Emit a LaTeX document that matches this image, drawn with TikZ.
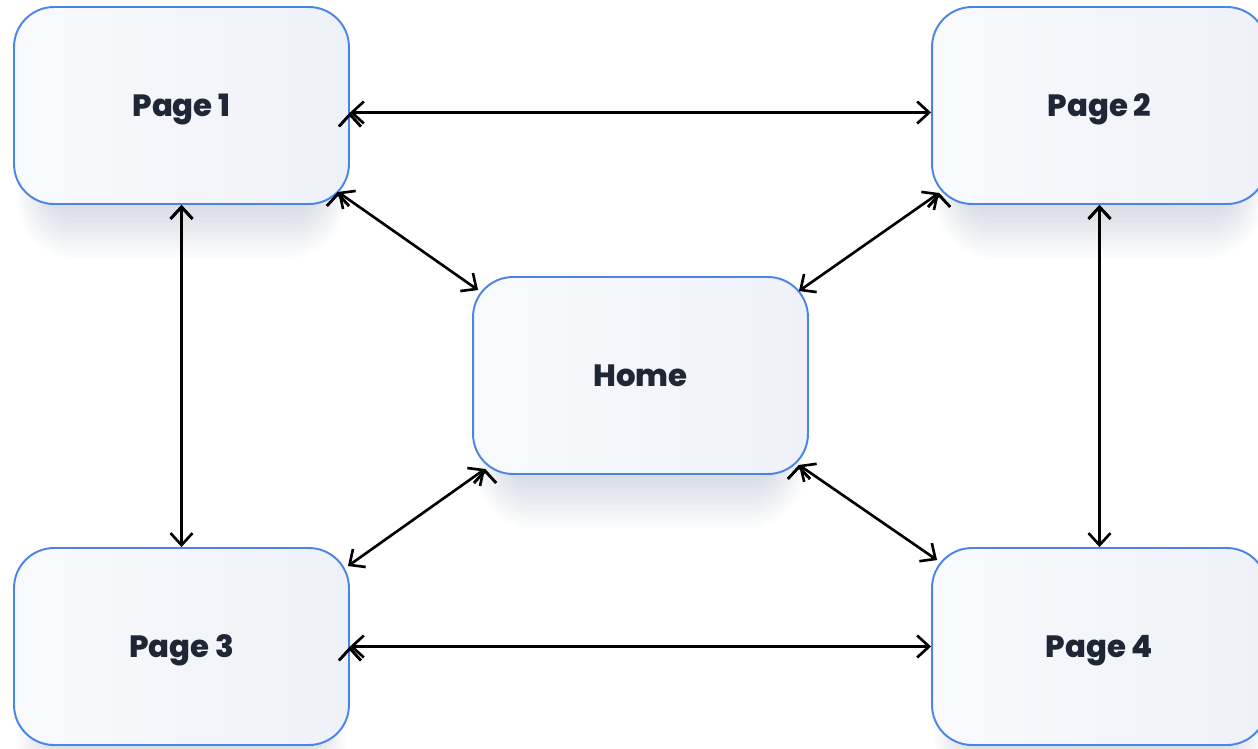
\documentclass[tikz,border=0pt]{standalone}
\usepackage{fontspec}
\newfontfamily\boxfont{Poppins}[BoldFont={Poppins ExtraBold}]
\usetikzlibrary{arrows.meta}
\usetikzlibrary{backgrounds}
\definecolor{boxline}{HTML}{4A84E4}
\definecolor{boxlight}{HTML}{F9FAFD}
\definecolor{boxdark}{HTML}{EEF1F8}
\definecolor{boxtext}{HTML}{1F2636}
\definecolor{shadowblue}{HTML}{8C96B4}

\begin{document}
\begin{tikzpicture}[x=0.02cm, y=-0.02cm,
                    pagebox/.style={draw=boxline, line width=1.1pt,
                        rounded corners=0.8cm,
                        left color=boxlight, right color=boxdark,
                        minimum width=6.7cm, minimum height=3.94cm,
                        text depth=0pt,
                        font=\boxfont\bfseries\fontsize{17.5}{20}\selectfont,
                        text=boxtext},
                    softshadow/.style={fill=shadowblue, opacity=0.026},
                    link/.style={{Straight Barb[length=2.4mm,width=4.4mm]}-{Straight Barb[length=2.4mm,width=4.4mm]},
                        line width=1.5pt, black}]

    \useasboundingbox (0,0) rectangle (1258,748);
    \clip (0,0) rectangle (1258,748);

    \node[pagebox] (p1) at (181.5,105.5) {Page 1};
    \node[pagebox] (p2) at (1099.5,105.5) {Page 2};
    \node[pagebox] (home) at (640.5,375.5) {Home};
    \node[pagebox] (p3) at (181.5,646.5) {Page 3};
    \node[pagebox] (p4) at (1099.5,646.5) {Page 4};

    \begin{scope}[on background layer]
        \fill[white] (0,0) rectangle (1258,748);
        \foreach \n in {p1,p2,home,p3,p4}
            \foreach \i in {0,...,10}
                \path[softshadow, rounded corners=14pt+2pt*\i]
                    ([shift={(34-3*\i,40-3*\i)}]\n.north west)
                    rectangle ([shift={(-34+3*\i,8+4.5*\i)}]\n.south east);
    \end{scope}

    \draw[link] ([shift={(0,7)}]p1.east)      edge ([shift={(0,7)}]p2.west);
    \draw[link] (p3.east)                     edge (p4.west);
    \draw[link] (p1.south)                    edge (p3.north);
    \draw[link] (p2.south)                    edge (p4.north);
    \draw[link] ([shift={(-12,-13)}]p1.south east) edge ([shift={(6,14)}]home.north west);
    \draw[link] ([shift={(8,-12)}]p2.south west)   edge ([shift={(-10,15)}]home.north east);
    \draw[link] ([shift={(13,-6)}]home.south west) edge ([shift={(-2,19)}]p3.north east);
    \draw[link] ([shift={(-10,-10)}]home.south east) edge ([shift={(6,13)}]p4.north west);
\end{tikzpicture}
\end{document}
